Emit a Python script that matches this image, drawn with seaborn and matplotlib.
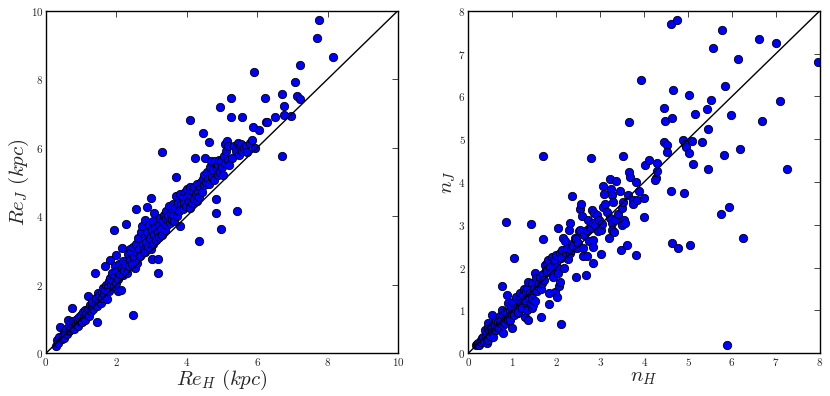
import numpy as np
import pandas as pd
import matplotlib
matplotlib.use("Agg")
import matplotlib.pyplot as plt
from matplotlib.ticker import FuncFormatter, MultipleLocator
import seaborn as sns

# effective radius, H band vs J band (kpc)
re_h = [0.28, 0.30, 0.35, 0.38, 0.40, 0.45, 0.47, 0.50, 0.52, 0.55, 0.57, 0.60, 0.62, 0.64, 0.66, 0.68,
        0.70, 0.72, 0.74, 0.76, 0.78, 0.80, 0.82, 0.85, 0.88, 0.90, 0.92, 0.95, 0.98, 1.00, 1.02, 1.05,
        1.08, 1.10, 1.12, 1.15, 1.18, 1.20, 1.22, 1.25, 1.28, 1.30, 1.32, 1.35,
        1.38, 1.40, 1.42, 1.45, 1.45, 1.48, 1.50, 1.52, 1.55, 1.58, 1.60, 1.62, 1.65, 1.68, 1.68, 1.70,
        1.72, 1.75, 1.78, 1.80, 1.82, 1.82, 1.85, 1.88, 1.90, 1.92, 1.94, 1.95, 1.97, 2.00, 2.00, 2.02,
        2.05, 2.05, 2.08, 2.10, 2.12, 2.15, 2.15, 2.18, 2.20, 2.22, 2.25, 2.28, 2.30,
        2.32, 2.35, 2.38, 2.40, 2.42, 2.45, 2.48, 2.48, 2.50, 2.52, 2.55, 2.55, 2.58, 2.60, 2.62, 2.65,
        2.68, 2.70, 2.72, 2.75, 2.78, 2.80, 2.81, 2.82, 2.85, 2.86, 2.88, 2.90, 2.92, 2.95, 2.98, 2.98,
        3.00, 3.02, 3.03, 3.05, 3.06, 3.08, 3.10, 3.12, 3.15, 3.17, 3.17, 3.18, 3.20, 3.22, 3.25, 3.28,
        3.30, 3.30,
        3.33, 3.35, 3.38, 3.40, 3.42, 3.45, 3.48, 3.50, 3.52, 3.55, 3.58, 3.60, 3.62, 3.65, 3.68, 3.69,
        3.70, 3.72, 3.75, 3.78, 3.80, 3.81, 3.85, 3.88, 3.90, 3.92, 3.95, 3.98, 4.00, 4.02, 4.05, 4.08,
        4.09, 4.09, 4.12, 4.15, 4.18, 4.20, 4.22, 4.24, 4.25, 4.28, 4.30, 4.32, 4.35, 4.35, 4.38, 4.40,
        4.42, 4.45, 4.47, 4.48, 4.50, 4.52, 4.55, 4.58, 4.60, 4.63, 4.62, 4.65, 4.68, 4.70, 4.72, 4.75,
        4.78, 4.80, 4.83, 4.83, 4.85, 4.88, 4.90, 4.92, 4.95, 4.95, 4.96, 4.98, 5.00, 5.02, 5.05, 5.08,
        5.10, 5.12, 5.15, 5.16, 5.18, 5.20, 5.25, 5.25, 5.28,
        5.35, 5.40, 5.43, 5.45, 5.48, 5.50, 5.55, 5.56, 5.58, 5.62, 5.68, 5.72, 5.80, 5.85, 5.87, 5.92,
        5.95, 6.05,
        6.23, 6.25, 6.28, 6.51, 6.70, 6.70, 6.75, 6.75, 6.96, 7.08, 7.13, 7.22, 7.22, 7.70, 7.77, 8.15]
re_j = [0.22, 0.38, 0.30, 0.48, 0.78, 0.42, 0.53, 0.62, 0.45, 0.58, 0.70, 0.55, 0.97, 0.66, 0.80, 0.68,
        0.88, 0.75, 1.31, 0.82, 0.95, 0.72, 0.90, 0.85, 1.00, 0.93, 0.80, 1.05, 0.95, 1.12, 0.90, 1.20,
        1.05, 0.98, 1.25, 1.15, 1.30, 1.67, 1.10, 1.40, 1.22, 1.35, 1.50, 1.28,
        2.33, 1.45, 1.60, 0.91, 1.38, 1.75, 1.55, 1.68, 1.48, 1.80, 1.62, 1.90, 1.72, 2.55, 1.85, 2.00,
        1.58, 1.95, 2.10, 1.82, 2.72, 2.20, 2.00, 2.35, 2.12, 1.95, 3.61, 2.55, 2.25, 2.05, 2.87, 2.40,
        2.18, 1.82, 2.60, 2.30, 1.85, 3.06, 2.50, 2.28, 2.70, 2.42, 2.60, 3.78, 2.35,
        2.90, 2.55, 3.05, 2.72, 2.95, 2.60, 1.12, 3.10, 2.80, 2.48, 4.20, 3.20, 2.95, 2.62, 3.35, 3.05,
        2.85, 3.55, 3.70, 3.20, 3.00, 3.40, 3.89, 2.95, 3.25, 4.26, 3.55, 3.10, 3.75, 3.35, 4.53, 3.05,
        3.60, 2.74, 3.85, 3.20, 4.09, 3.45, 3.65, 3.30, 3.90, 2.33, 2.74, 3.55, 3.75, 3.40, 3.95, 3.62,
        5.88, 3.45,
        3.85, 4.05, 3.60, 3.95, 4.15, 3.75, 4.00, 4.30, 3.80, 4.10, 3.90, 4.35, 4.05, 3.85, 4.25, 5.15,
        4.60, 4.00, 4.40, 4.15, 3.70, 4.64, 4.35, 4.55, 4.20, 4.40, 4.70, 4.30, 4.55, 4.80, 4.45, 4.25,
        4.86, 6.80, 4.60, 4.40, 4.75, 4.50, 4.85, 5.70, 4.65, 4.45, 4.95, 4.70, 3.29, 4.55, 4.85, 5.00,
        4.70, 5.10, 6.43, 4.90, 5.20, 5.70, 5.00, 5.30, 5.10, 6.17, 4.95, 5.45, 5.25, 5.60, 5.15, 5.35,
        5.05, 5.60, 4.51, 4.09, 5.40, 5.20, 5.50, 5.65, 5.30, 7.19, 3.62, 5.60, 5.45, 5.20, 5.75, 5.55,
        6.10, 5.90, 6.20, 6.05, 5.65, 5.50, 7.44, 6.89, 5.70,
        6.05, 5.90, 4.16, 6.15, 5.80, 6.05, 6.10, 6.89, 5.90, 6.00, 6.05, 5.88, 6.15, 6.23, 6.60, 8.22,
        6.00, 6.53,
        7.46, 6.74, 6.76, 6.91, 7.58, 5.77, 7.22, 6.95, 6.92, 7.91, 7.50, 7.42, 8.41, 9.21, 9.73, 8.66]

# Sersic index, H band vs J band
n_h = [0.17, 0.20, 0.23, 0.25, 0.28, 0.30, 0.32, 0.34, 0.36, 0.38, 0.40, 0.42, 0.42, 0.44, 0.45, 0.45,
       0.47, 0.49, 0.50, 0.52, 0.53, 0.53, 0.55, 0.57, 0.58, 0.60, 0.61, 0.62, 0.64, 0.66, 0.68, 0.70,
       0.72, 0.73, 0.75, 0.76, 0.77, 0.78, 0.80, 0.80, 0.82, 0.83, 0.83, 0.85, 0.85, 0.87, 0.88, 0.90,
       0.91, 0.93, 0.95, 0.95, 0.97, 0.99, 1.00,
       1.02, 1.04, 1.05, 1.06, 1.08, 1.10, 1.12, 1.14, 1.15, 1.17, 1.18, 1.20, 1.21, 1.23, 1.25, 1.26,
       1.28, 1.29, 1.30, 1.32, 1.34, 1.34, 1.36, 1.36, 1.38, 1.40, 1.42, 1.42, 1.44, 1.45, 1.46, 1.48,
       1.50, 1.52, 1.52, 1.55, 1.56, 1.58, 1.60, 1.63, 1.65, 1.66, 1.67, 1.69, 1.69, 1.70, 1.72, 1.74,
       1.76, 1.78, 1.80, 1.82, 1.84, 1.84, 1.86, 1.88, 1.90, 1.93, 1.95, 1.97, 1.97, 1.99,
       2.01, 2.02, 2.05, 2.05, 2.07, 2.08, 2.09, 2.10, 2.12, 2.14, 2.16, 2.18, 2.20, 2.22, 2.24, 2.26,
       2.30, 2.31, 2.32, 2.33, 2.35, 2.37, 2.39, 2.42, 2.44, 2.46, 2.48, 2.50, 2.52, 2.54, 2.54, 2.56,
       2.58, 2.60, 2.62, 2.64, 2.67, 2.69, 2.70, 2.72, 2.75, 2.77, 2.79, 2.79, 2.81, 2.83, 2.84, 2.84,
       2.84, 2.86, 2.88, 2.92, 2.95, 2.98,
       3.03, 3.03, 3.05, 3.07, 3.07, 3.09, 3.12, 3.15, 3.19, 3.22, 3.22, 3.24, 3.26, 3.27, 3.28, 3.30,
       3.32, 3.34, 3.37, 3.40, 3.45, 3.47, 3.49, 3.49, 3.52, 3.53, 3.54, 3.56, 3.60, 3.64, 3.65, 3.65,
       3.69, 3.74, 3.74, 3.81, 3.82, 3.83, 3.88, 3.93, 3.99, 4.00, 4.03, 4.11, 4.27, 4.29, 4.29, 4.25,
       4.46, 4.46, 4.47, 4.53, 4.53, 4.61, 4.61, 4.63, 4.63, 4.66, 4.75, 4.78, 4.88, 4.91, 4.93, 4.96,
       5.01, 5.01, 5.05, 5.08, 5.12, 5.16, 5.31, 5.42, 5.45, 5.45, 5.52, 5.57, 5.76, 5.78, 5.82, 5.84,
       5.89, 5.92, 5.97, 6.13, 6.17, 6.25, 6.62, 6.68, 6.99, 7.10, 7.26, 7.95]
n_j = [0.19, 0.22, 0.23, 0.20, 0.30, 0.27, 0.35, 0.39, 0.28, 0.54, 0.40, 0.23, 0.47, 0.62, 0.31, 0.70,
       0.52, 0.47, 0.40, 0.62, 0.58, 0.89, 0.50, 0.39, 0.68, 0.55, 0.66, 0.75, 0.54, 0.62, 0.74, 0.60,
       0.86, 0.70, 0.78, 1.01, 1.58, 0.65, 0.47, 0.90, 0.72, 0.70, 0.97, 3.07, 0.82, 1.36, 0.95, 0.78,
       1.17, 0.88, 1.01, 0.78, 1.10, 0.58, 0.92,
       1.20, 0.89, 2.23, 1.05, 1.32, 1.09, 0.95, 0.97, 1.25, 1.40, 1.12, 1.30, 1.17, 1.05, 1.36, 1.50,
       1.20, 1.25, 0.85, 1.45, 1.01, 1.52, 1.67, 0.78, 1.30, 1.40, 3.01, 1.15, 1.05, 1.63, 1.30, 1.13,
       1.50, 1.21, 1.87, 1.75, 1.45, 1.56, 1.65, 1.79, 0.85, 1.50, 1.63, 2.67, 4.61, 1.85, 1.70, 2.06,
       1.95, 1.91, 2.10, 2.18, 1.40, 1.15, 2.02, 1.88, 2.25, 1.79, 2.15, 2.18, 1.44, 2.30,
       2.02, 1.31, 2.93, 1.87, 1.57, 2.33, 1.67, 0.68, 2.22, 2.40, 2.68, 1.98, 2.62, 2.35, 2.43, 2.20,
       2.88, 3.04, 2.33, 2.41, 3.68, 2.55, 2.51, 2.70, 1.77, 2.66, 2.45, 2.58, 2.85, 2.88, 3.36, 3.49,
       3.21, 2.26, 2.45, 2.75, 1.82, 2.26, 2.88, 3.10, 2.62, 2.95, 2.92, 4.55, 3.35, 2.65, 2.49, 3.05,
       2.10, 3.27, 3.00, 3.23, 2.85, 3.10,
       2.88, 2.32, 3.02, 3.91, 3.42, 3.72, 3.49, 3.30, 2.68, 4.07, 3.15, 3.83, 3.05, 3.70, 2.88, 3.54,
       2.84, 3.11, 4.02, 3.25, 3.80, 2.40, 3.39, 2.99, 4.61, 3.54, 3.11, 3.05, 2.53, 3.70, 4.24, 5.41,
       4.11, 3.58, 3.49, 4.01, 2.29, 3.58, 3.80, 6.38, 3.18, 3.63, 4.40, 4.51, 4.10, 4.26, 4.45, 4.05,
       5.72, 4.93, 5.43, 4.87, 4.71, 7.69, 3.79, 5.49, 2.58, 6.15, 7.79, 2.46, 4.98, 3.75, 4.89, 4.82,
       6.03, 4.68, 2.52, 4.95, 4.43, 5.59, 4.93, 5.71, 5.23, 4.31, 5.91, 7.14, 3.26, 7.56, 4.63, 6.25,
       0.20, 3.41, 5.56, 6.87, 4.78, 2.69, 7.34, 5.42, 7.25, 5.89, 4.31, 6.81]

ticks_re = [0, 2, 4, 6, 8, 10]
ticks_n = [0, 1, 2, 3, 4, 5, 6, 7, 8]

sns.set_style("white")
plt.rcParams['mathtext.fontset'] = 'cm'
plt.rcParams['font.family'] = ['DejaVu Serif']

df_re = pd.DataFrame({'h': re_h, 'j': re_j})
df_n = pd.DataFrame({'h': n_h, 'j': n_j})

fig = plt.figure(figsize=(8.3, 3.96), dpi=100)
ax1 = fig.add_axes([0.0554, 0.108, 0.424, 0.865])
ax2 = fig.add_axes([0.5642, 0.108, 0.4237, 0.865])

def panel(ax, df, lim, ticks, xl, yl):
    sns.scatterplot(data=df, x='h', y='j', ax=ax, color='#0000ff', edgecolor='black',
                    linewidth=0.6, s=36, zorder=2)
    ax.plot([0, lim], [0, lim], color='black', lw=1.0, zorder=3)
    ax.set_xlim(0, lim)
    ax.set_ylim(0, lim)
    ax.set_xticks(ticks)
    ax.set_yticks(ticks)
    fmt = FuncFormatter(lambda v, p: r'$%d$' % v)
    ax.xaxis.set_major_formatter(fmt)
    ax.yaxis.set_major_formatter(fmt)
    ax.tick_params(direction='in', length=4, width=0.6, labelsize=8, pad=2,
                   top=True, right=True)
    for sp in ax.spines.values():
        sp.set_linewidth(1.0)
        sp.set_color('black')
    ax.set_xlabel(xl, fontsize=15, labelpad=0)
    ax.set_ylabel(yl, fontsize=15, labelpad=0)

panel(ax1, df_re, 10, ticks_re, r'$Re_H\ (kpc)$', r'$Re_J\ (kpc)$')
panel(ax2, df_n, 8, ticks_n, r'$n_H$', r'$n_J$')

fig.savefig('out.png', dpi=100)
